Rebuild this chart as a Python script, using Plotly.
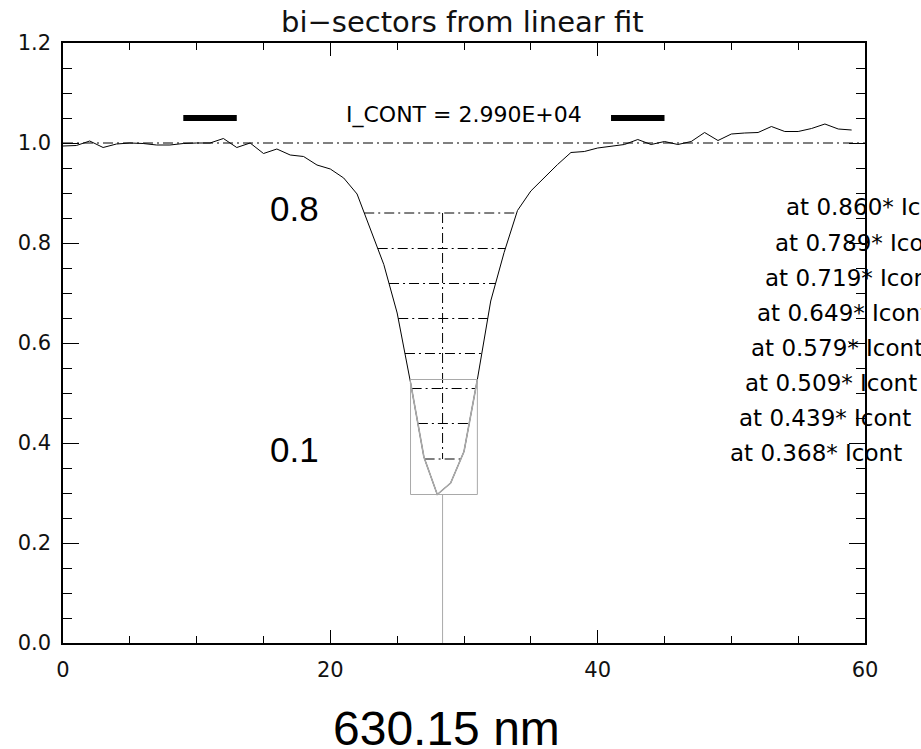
import numpy as np
import plotly.graph_objects as go

# Normalised line profile (pixel index vs. I / I_cont)
pix = list(range(60))
intensity = [
    0.994, 0.995, 1.004, 0.991, 0.998, 1.000, 0.999, 0.996, 0.996, 0.999,
    1.000, 1.000, 1.009, 0.991, 1.000, 0.979, 0.988, 0.976, 0.973, 0.956,
    0.948, 0.930, 0.898, 0.827, 0.757, 0.660, 0.521, 0.372, 0.297, 0.320,
    0.383, 0.527, 0.684, 0.781, 0.865, 0.904, 0.931, 0.957, 0.981, 0.983,
    0.990, 0.993, 0.997, 1.007, 0.997, 1.003, 0.997, 1.003, 1.021, 1.005,
    1.018, 1.020, 1.021, 1.033, 1.023, 1.023, 1.029, 1.038, 1.028, 1.026,
]

# Bisector levels (fraction of continuum intensity)
levels = [0.860, 0.789, 0.719, 0.649, 0.579, 0.509, 0.439, 0.368]

# Continuum windows and their marker level, continuum value
cont_windows = [(9, 13), (41, 45)]
cont_marker_level = 1.05
cont_level = 1.0
i_cont = 2.990e4

# Pixels used for the core fit
core_pix = [26, 27, 28, 29, 30, 31]

# Axis ticks
x_ticks = [0, 20, 40, 60]
y_ticks = [0.0, 0.2, 0.4, 0.6, 0.8, 1.0, 1.2]

FONT = "DejaVu Sans"
DASHDOT = "10px,4px,2px,4px"
GRAY = "#a9a9a9"

x = np.array(pix, dtype=float)
y = np.array(intensity)
imin = int(np.argmin(y))


def crossing(level, side):
    """Linear interpolation of where the profile crosses `level` on one wing."""
    step = -1 if side == "left" else 1
    i = imin
    while 0 <= i + step < len(y) and y[i + step] < level:
        i += step
    j = i + step
    f = (level - y[i]) / (y[j] - y[i])
    return x[i] + f * (x[j] - x[i])


lefts = [crossing(lv, "left") for lv in levels]
rights = [crossing(lv, "right") for lv in levels]
mids = [(a + b) / 2 for a, b in zip(lefts, rights)]
x_bis = float(np.mean(mids))

fig = go.Figure()

# continuum reference
fig.add_trace(go.Scatter(x=[x_ticks[0], x_ticks[-1]], y=[cont_level, cont_level],
                         mode="lines", line=dict(color="black", width=1, dash=DASHDOT),
                         hoverinfo="skip"))

# bisector chords
hx, hy = [], []
for lv, a, b in zip(levels, lefts, rights):
    hx += [a, b, None]
    hy += [lv, lv, None]
fig.add_trace(go.Scatter(x=hx, y=hy, mode="lines",
                         line=dict(color="black", width=1, dash=DASHDOT), hoverinfo="skip"))
fig.add_trace(go.Scatter(x=[x_bis, x_bis], y=[levels[0], levels[-1]], mode="lines",
                         line=dict(color="black", width=1, dash=DASHDOT), hoverinfo="skip"))

# observed profile
fig.add_trace(go.Scatter(x=x, y=y, mode="lines", line=dict(color="black", width=1),
                         hoverinfo="skip"))

# core fit region
cx = np.array(core_pix, dtype=float)
cy = y[core_pix]
y_lo, y_hi = float(cy.min()), float(cy.max())
fig.add_trace(go.Scatter(x=cx, y=cy, mode="lines", line=dict(color=GRAY, width=1.6),
                         hoverinfo="skip"))
fig.add_trace(go.Scatter(x=[cx[0], cx[-1], cx[-1], cx[0], cx[0]],
                         y=[y_lo, y_lo, y_hi, y_hi, y_lo], mode="lines",
                         line=dict(color=GRAY, width=1), hoverinfo="skip"))
fig.add_trace(go.Scatter(x=[x_bis, x_bis], y=[y_lo, y_ticks[0]], mode="lines",
                         line=dict(color=GRAY, width=1), hoverinfo="skip"))

# continuum windows
for a, b in cont_windows:
    fig.add_trace(go.Scatter(x=[a, b], y=[cont_marker_level, cont_marker_level],
                             mode="lines", line=dict(color="black", width=6),
                             hoverinfo="skip"))

annotations = [
    dict(x=30, y=1.057, xref="x", yref="y", text=f"I_CONT = {i_cont:.3E}",
         showarrow=False, font=dict(family=FONT, size=22, color="black")),
    dict(x=17.35, y=0.869, xref="x", yref="y", text=f"{0.8:.1f}", showarrow=False,
         font=dict(family="Liberation Sans", size=35, color="black")),
    dict(x=17.35, y=0.387, xref="x", yref="y", text=f"{0.1:.1f}", showarrow=False,
         font=dict(family="Liberation Sans", size=35, color="black")),
    dict(x=0.4776, y=-0.1417, xref="paper", yref="paper", xanchor="center",
         yanchor="middle", text="630.15 nm",
         showarrow=False, font=dict(family="Liberation Sans", size=48, color="black")),
]
for lv, r in zip(levels, rights):
    annotations.append(dict(x=r + 20, y=lv, xref="x", yref="y", xanchor="left",
                            yanchor="middle", yshift=6, text=f"at {lv:.3f}* Icont",
                            showarrow=False, font=dict(family=FONT, size=23, color="black")))

axis_common = dict(showline=True, linecolor="black", linewidth=1.5, mirror="allticks",
                   ticks="inside", tickcolor="black", tickwidth=1.3,
                   showgrid=False, zeroline=False,
                   tickfont=dict(family=FONT, size=21, color="#111"))

fig.update_layout(
    width=921, height=749,
    margin=dict(l=63, r=56, t=43, b=106),
    paper_bgcolor="white", plot_bgcolor="white",
    showlegend=False,
    title=dict(text="bi\u2212sectors from linear fit", x=0.502, xanchor="center",
               y=1 - 22 / 749, yanchor="middle",
               font=dict(family=FONT, size=29, color="#111")),
    xaxis=dict(range=[x_ticks[0], x_ticks[-1]], tickvals=x_ticks, ticklen=13,
               ticklabelstandoff=7,
               minor=dict(dtick=5, ticks="inside", ticklen=7, tickcolor="black",
                          tickwidth=1.3, showgrid=False),
               **axis_common),
    yaxis=dict(range=[y_ticks[0], y_ticks[-1]], tickvals=y_ticks, tickformat=".1f",
               ticklen=16, ticklabelstandoff=6,
               minor=dict(dtick=0.05, ticks="inside", ticklen=9, tickcolor="black",
                          tickwidth=1.3, showgrid=False),
               **axis_common),
    annotations=annotations,
)

fig.write_html("out.html")
